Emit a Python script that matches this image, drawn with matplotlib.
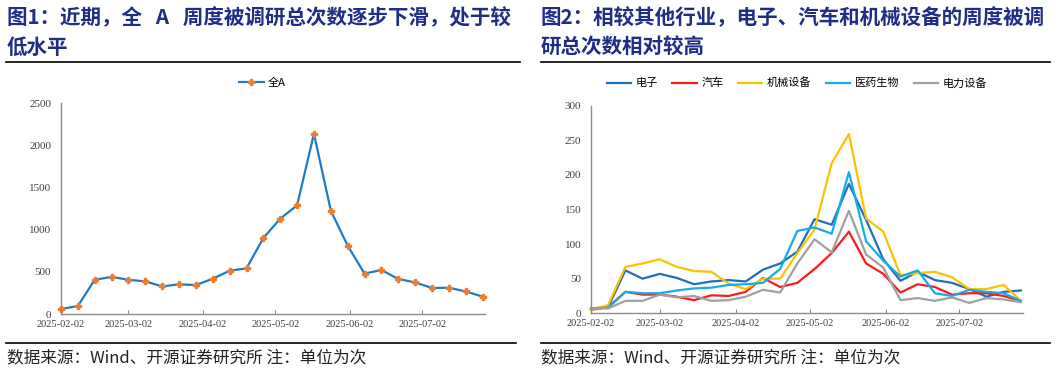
import matplotlib
matplotlib.use('Agg')
import matplotlib.pyplot as plt
import matplotlib.dates as mdates
from matplotlib.lines import Line2D
import pandas as pd

plt.rcParams['font.family'] = ['Noto Sans CJK SC', 'DejaVu Sans']

# weekly dates
dates = pd.date_range('2025-02-02', periods=26, freq='7D')

# fig 1: all A shares
all_a = [59, 95, 407, 440, 407, 387, 328, 352, 344, 419, 514, 542, 903,
         1132, 1290, 2142, 1227, 811, 479, 523, 416, 375, 309, 312, 268, 206]

# fig 2: industries
dianzi = [7, 9, 62, 50, 57, 51, 42, 46, 48, 46, 63, 72, 89,
          136, 128, 187, 135, 78, 47, 60, 48, 44, 35, 24, 31, 33]
qiche = [5, 9, 31, 27, 27, 24, 19, 26, 25, 31, 51, 38, 44,
         64, 87, 118, 72, 57, 30, 42, 38, 27, 29, 29, 25, 18]
jixie = [5, 12, 67, 72, 78, 67, 61, 60, 43, 35, 50, 50, 87,
         121, 217, 259, 137, 118, 55, 58, 60, 52, 35, 35, 41, 18]
yiyao = [7, 8, 31, 29, 29, 33, 36, 37, 41, 42, 44, 64, 119,
         124, 115, 204, 104, 76, 53, 62, 29, 25, 34, 31, 29, 18]
dianli = [7, 7, 18, 18, 27, 23, 25, 18, 19, 24, 34, 30, 72,
          107, 88, 148, 85, 66, 19, 22, 18, 23, 15, 22, 20, 16]

series_names = ['电子', '汽车', '机械设备', '医药生物', '电力设备']
series_vals = [dianzi, qiche, jixie, yiyao, dianli]
series_colors = ['#1f6fba', '#ff1a1a', '#ffc000', '#12aee8', '#a0a0a0']

W, H = 1057, 374
fig = plt.figure(figsize=(W / 100, H / 100), dpi=100)

title_color = '#1f2d86'
serif = 'Liberation Serif'
axis_gray = '#8c8c8c'
tick_color = '#404040'


def fx(px):
    return px / W


def fy(py):
    return 1 - py / H


# titles
fig.text(fx(7), fy(18), '图1：近期，全   A   周度被调研总次数逐步下滑，处于较',
         fontsize=14.8, fontweight='bold', color=title_color, va='center')
fig.text(fx(7), fy(47), '低水平', fontsize=14.8, fontweight='bold',
         color=title_color, va='center')
fig.text(fx(541), fy(18), '图2：相较其他行业，电子、汽车和机械设备的周度被调',
         fontsize=14.8, fontweight='bold', color=title_color, va='center')
fig.text(fx(541), fy(47), '研总次数相对较高', fontsize=14.8, fontweight='bold',
         color=title_color, va='center')

# separator lines
for x0, x1, y in [(6, 520, 62), (541, 1050, 62), (6, 516, 343), (541, 1050, 343)]:
    fig.add_artist(Line2D([fx(x0), fx(x1)], [fy(y), fy(y)], color='black',
                          lw=1.2, transform=fig.transFigure))

# sources
for x in (7, 541):
    fig.text(fx(x), fy(358), '数据来源：Wind、开源证券研究所 注：单位为次',
             fontsize=12, color='#222222', va='center')

xlim = (pd.Timestamp('2025-02-02'), pd.Timestamp('2025-07-28'))
month_ticks = pd.date_range('2025-02-01', periods=6, freq='MS') + pd.Timedelta(days=1)


def style_axis(ax, yticks):
    for s in ('top', 'right'):
        ax.spines[s].set_visible(False)
    for s in ('left', 'bottom'):
        ax.spines[s].set_color(axis_gray)
        ax.spines[s].set_linewidth(1.0)
    ax.set_xlim(xlim)
    ax.set_xticks(month_ticks)
    ax.xaxis.set_major_formatter(mdates.DateFormatter('%Y-%m-%d'))
    ax.set_yticks(yticks)
    ax.set_ylim(yticks[0], yticks[-1])
    ax.tick_params(axis='x', direction='in', length=3, width=0.8,
                   color=axis_gray, pad=4, labelsize=7.5, labelcolor=tick_color)
    ax.tick_params(axis='y', length=0, pad=7, labelsize=8, labelcolor=tick_color)
    for lab in ax.get_xticklabels() + ax.get_yticklabels():
        lab.set_fontfamily(serif)
    ax.patch.set_alpha(0)


# left chart
ax1 = fig.add_axes([fx(61), fy(314), (485 - 61) / W, (314 - 103.5) / H])
ax1.plot(dates, all_a, color='#1f7bc8', lw=1.6, marker='P', markersize=5,
         markerfacecolor='#ed7d31', markeredgecolor='#ed7d31', label='全A',
         clip_on=False)
style_axis(ax1, [0, 500, 1000, 1500, 2000, 2500])
fig.legend(handles=ax1.get_lines(), loc='center', bbox_to_anchor=(fx(262), fy(83)),
           frameon=False, fontsize=8, handlelength=2.3, handletextpad=0.3)

# right chart
ax2 = fig.add_axes([fx(591), fy(313.3), (1023.3 - 591) / W, (313.3 - 105.7) / H])
for name, vals, col in zip(series_names, series_vals, series_colors):
    ax2.plot(dates, vals, color=col, lw=1.6, label=name, clip_on=False)
style_axis(ax2, [0, 50, 100, 150, 200, 250, 300])
fig.legend(handles=ax2.get_lines(), loc='center', bbox_to_anchor=(fx(797), fy(83)),
           ncol=5, frameon=False, fontsize=8, handlelength=2.2,
           handletextpad=0.4, columnspacing=1.3)

fig.savefig('out.png', dpi=100)
